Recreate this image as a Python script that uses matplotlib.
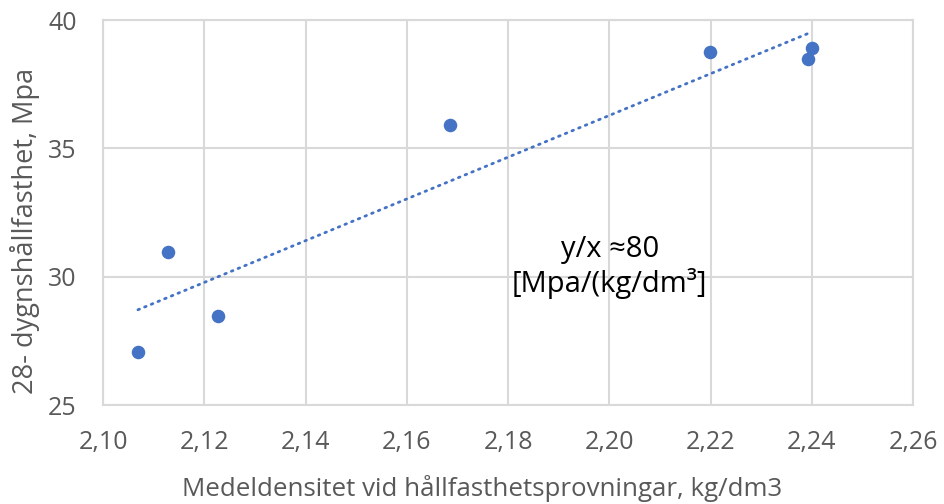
import numpy as np
import matplotlib
matplotlib.use("Agg")
import matplotlib.pyplot as plt
from matplotlib.ticker import FuncFormatter

# data
density = [2.1069, 2.1128, 2.1228, 2.1685, 2.2199, 2.2393, 2.2400]
strength = [27.05, 30.97, 28.48, 35.91, 38.74, 38.48, 38.90]
x_ticks = [2.10, 2.12, 2.14, 2.16, 2.18, 2.20, 2.22, 2.24, 2.26]
y_ticks = [25, 30, 35, 40]

plt.rcParams['font.family'] = ['Open Sans', 'DejaVu Sans']

fig = plt.figure(figsize=(9.45, 5.04), dpi=100)
ax = fig.add_axes([103/945, 99/504, 810/945, 385/504])

blue = '#4472C4'
grid = '#d9d9d9'
txt = '#595959'

# trendline (least squares through the points)
k, m = np.polyfit(density, strength, 1)
xs = np.array([min(density), max(density)])
ax.plot(xs, k*xs + m, color=blue, lw=2.0, linestyle=(0, (0.6, 2.0)),
        dash_capstyle='round', zorder=2)

ax.scatter(density, strength, s=95, color=blue, zorder=3, linewidths=0)

ax.set_xlim(2.10, 2.26)
ax.set_ylim(25, 40)
ax.set_xticks(x_ticks)
ax.set_yticks(y_ticks)
ax.xaxis.set_major_formatter(FuncFormatter(lambda v, p: f"{v:.2f}".replace('.', ',')))
ax.grid(True, color=grid, lw=1.5, zorder=0)
ax.set_axisbelow(True)
for s in ax.spines.values():
    s.set_color(grid)
    s.set_linewidth(1.5)
ax.tick_params(length=0, labelsize=18, labelcolor=txt)
ax.tick_params(axis='x', pad=18)
ax.tick_params(axis='y', pad=19)

ax.set_xlabel("Medeldensitet vid hållfasthetsprovningar, kg/dm3", fontsize=18.6,
              color=txt, va='center')
ax.set_ylabel("28- dygnshållfasthet, Mpa", fontsize=19.5, color=txt, va='center')
ax.xaxis.set_label_coords(0.468, -0.218)
ax.yaxis.set_label_coords(-0.096, 0.452)

ax.text(2.2001, 30.38, "y/x ≈80\n[Mpa/(kg/dm³]", ha='center', va='center',
        fontsize=21, color='black', linespacing=1.15)

fig.savefig("out.png", dpi=100)
